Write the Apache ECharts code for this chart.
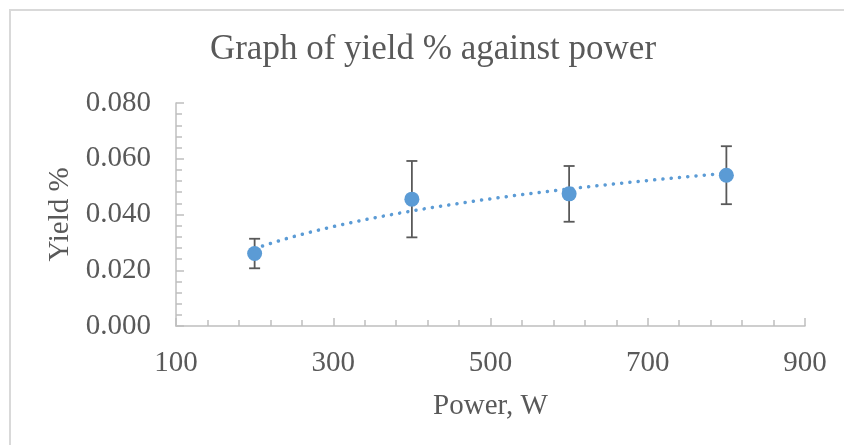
<!DOCTYPE html>
<html>
<head>
<meta charset="utf-8">
<script src="https://cdn.jsdelivr.net/npm/echarts@6/dist/echarts.min.js"></script>
<style>
  html, body { margin: 0; padding: 0; background: #ffffff; }
  #chart { width: 844px; height: 445px; }
</style>
</head>
<body>
<div id="chart"></div>
<script>
// Measured yield at each microwave power setting, with ± error
const powers = [200, 400, 600, 800];
const yields = [0.0260, 0.0455, 0.0474, 0.0541];
const yieldErrors = [0.0053, 0.0137, 0.0100, 0.0104];

// Axis ticks
const xTickLabels = ['100', '300', '500', '700', '900'];
const yTickLabels = ['0.000', '0.020', '0.040', '0.060', '0.080'];

const titleText = 'Graph of yield % against power';
const xAxisName = 'Power, W';
const yAxisName = 'Yield %';

const FONT = "'Liberation Serif', 'Times New Roman', serif";
const TEXT = '#595959';
const AXIS = '#bfbfbf';
const BLUE = '#5b9bd5';

// Logarithmic least-squares trendline: y = a·ln(x) + b
function logFit(xs, ys) {
  const lx = xs.map(Math.log);
  const n = xs.length;
  const mx = lx.reduce((s, v) => s + v, 0) / n;
  const my = ys.reduce((s, v) => s + v, 0) / n;
  let sxy = 0, sxx = 0;
  for (let i = 0; i < n; i++) {
    sxy += (lx[i] - mx) * (ys[i] - my);
    sxx += (lx[i] - mx) * (lx[i] - mx);
  }
  const a = sxy / sxx;
  return { a: a, b: my - a * mx };
}
const fit = logFit(powers, yields);
const trend = [];
for (let x = powers[0]; x <= powers[powers.length - 1]; x += 5) {
  trend.push([x, fit.a * Math.log(x) + fit.b]);
}

const xMin = Number(xTickLabels[0]);
const xMax = Number(xTickLabels[xTickLabels.length - 1]);
const xStep = Number(xTickLabels[1]) - xMin;
const yMin = Number(yTickLabels[0]);
const yMax = Number(yTickLabels[yTickLabels.length - 1]);
const yStep = Number(yTickLabels[1]) - yMin;

const chart = echarts.init(document.getElementById('chart'), null, { renderer: 'canvas' });

const option = {
  backgroundColor: '#ffffff',
  animation: false,
  textStyle: { fontFamily: FONT, color: TEXT },
  graphic: [
    {
      type: 'rect',
      shape: { x: 10, y: 10, width: 900, height: 500 },
      style: { fill: 'none', stroke: '#d9d9d9', lineWidth: 2 },
      silent: true
    },
    {
      type: 'text',
      x: 433,
      y: 50,
      style: {
        text: titleText,
        fontFamily: FONT,
        fontSize: 35,
        fill: TEXT,
        align: 'center',
        verticalAlign: 'middle'
      }
    }
  ],
  grid: { left: 176, right: 39, top: 103, bottom: 119, containLabel: false },
  xAxis: {
    type: 'value',
    min: xMin,
    max: xMax,
    interval: xStep,
    name: xAxisName,
    nameLocation: 'middle',
    nameGap: 66,
    nameTextStyle: { fontFamily: FONT, fontSize: 29, color: TEXT },
    axisLine: { show: true, lineStyle: { color: AXIS, width: 1.5 } },
    axisTick: { show: true, inside: true, length: 8, lineStyle: { color: AXIS, width: 1.5 } },
    minorTick: { show: true, splitNumber: 5, length: 6, lineStyle: { color: AXIS, width: 1.5 } },
    splitLine: { show: false },
    axisLabel: {
      fontFamily: FONT, fontSize: 29, color: TEXT, margin: 23,
      formatter: function (v) {
        const i = Math.round((v - xMin) / xStep);
        return xTickLabels[i] !== undefined ? xTickLabels[i] : '';
      }
    }
  },
  yAxis: {
    type: 'value',
    min: yMin,
    max: yMax,
    interval: yStep,
    name: yAxisName,
    nameLocation: 'middle',
    nameGap: 100,
    nameRotate: 90,
    nameTextStyle: { fontFamily: FONT, fontSize: 29, color: TEXT },
    axisLine: { show: true, lineStyle: { color: AXIS, width: 1.5 } },
    axisTick: { show: true, inside: true, length: 8, lineStyle: { color: AXIS, width: 1.5 } },
    minorTick: { show: true, splitNumber: 5, length: 6, lineStyle: { color: AXIS, width: 1.5 } },
    splitLine: { show: false },
    axisLabel: {
      fontFamily: FONT, fontSize: 29, color: TEXT, margin: 25,
      formatter: function (v) {
        const i = Math.round((v - yMin) / yStep);
        return yTickLabels[i] !== undefined ? yTickLabels[i] : '';
      }
    }
  },
  series: [
    {
      name: 'error',
      type: 'custom',
      z: 2,
      data: powers.map((p, i) => [p, yields[i], yieldErrors[i]]),
      encode: { x: 0, y: 1 },
      renderItem: function (params, api) {
        const x = api.value(0), y = api.value(1), e = api.value(2);
        const top = api.coord([x, y + e]);
        const bot = api.coord([x, y - e]);
        const cap = 5.5;
        const st = { stroke: '#595959', lineWidth: 1.8 };
        return {
          type: 'group',
          children: [
            { type: 'line', shape: { x1: top[0], y1: top[1], x2: bot[0], y2: bot[1] }, style: st },
            { type: 'line', shape: { x1: top[0] - cap, y1: top[1], x2: top[0] + cap, y2: top[1] }, style: st },
            { type: 'line', shape: { x1: bot[0] - cap, y1: bot[1], x2: bot[0] + cap, y2: bot[1] }, style: st }
          ]
        };
      }
    },
    {
      name: 'Yield',
      type: 'scatter',
      z: 3,
      symbol: 'circle',
      symbolSize: 15,
      itemStyle: { color: BLUE, opacity: 1, borderWidth: 0 },
      data: powers.map((p, i) => [p, yields[i]])
    },
    {
      name: 'Log trend',
      type: 'line',
      z: 4,
      showSymbol: false,
      smooth: false,
      silent: true,
      lineStyle: { color: BLUE, width: 3.5, type: [0.1, 8.2], cap: 'round', opacity: 1 },
      data: trend
    }
  ]
};

chart.setOption(option);
</script>
</body>
</html>
